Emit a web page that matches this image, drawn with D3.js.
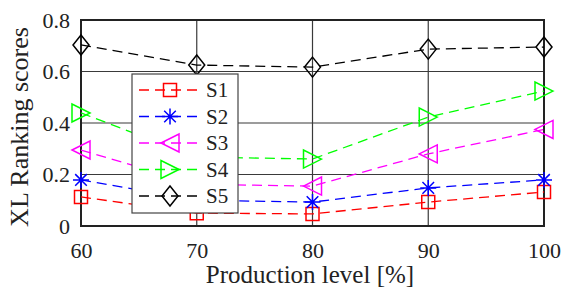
<!DOCTYPE html>
<html>
<head>
<meta charset="utf-8">
<script src="https://cdn.jsdelivr.net/npm/d3@7"></script>
<style>
  body { margin: 0; background: #fff; }
  text { font-family: "Liberation Serif", "Times New Roman", serif; fill: #222; }
</style>
</head>
<body>
<div id="chart"></div>
<script>
const levels = [60, 70, 80, 90, 100];
const s1 = [0.113, 0.050, 0.047, 0.093, 0.132];
const s2 = [0.179, 0.100, 0.093, 0.148, 0.179];
const s3 = [0.295, 0.162, 0.155, 0.280, 0.375];
const s4 = [0.439, 0.268, 0.260, 0.423, 0.524];
const s5 = [0.703, 0.625, 0.617, 0.687, 0.695];
const yTicks = [0, 0.2, 0.4, 0.6, 0.8];
const seriesNames = ["S1", "S2", "S3", "S4", "S5"];

const series = [
  { name: "S1", values: s1, color: "#ff0000", marker: "square" },
  { name: "S2", values: s2, color: "#0000ff", marker: "asterisk" },
  { name: "S3", values: s3, color: "#ff00ff", marker: "left" },
  { name: "S4", values: s4, color: "#00ff00", marker: "right" },
  { name: "S5", values: s5, color: "#000000", marker: "diamond" }
];

const width = 563, height = 293;
const margin = { top: 20, right: 19, bottom: 67, left: 81 };
const bw = width - margin.left - margin.right;
const bh = height - margin.top - margin.bottom;

const svg = d3.select("#chart").append("svg")
  .attr("width", width)
  .attr("height", height);

const bounds = svg.append("g")
  .attr("transform", `translate(${margin.left},${margin.top})`);

const x = d3.scaleLinear().domain([60, 100]).range([0, bw]);
const y = d3.scaleLinear().domain([0, 0.8]).range([bh, 0]);

// grid
bounds.append("g")
  .selectAll("line.vg")
  .data(levels.slice(1, -1))
  .join("line")
  .attr("x1", d => x(d)).attr("x2", d => x(d))
  .attr("y1", 0).attr("y2", bh)
  .attr("stroke", "#3a3a3a").attr("stroke-width", 1.2);
bounds.append("g")
  .selectAll("line.hg")
  .data(yTicks.slice(1, -1))
  .join("line")
  .attr("x1", 0).attr("x2", bw)
  .attr("y1", d => y(d)).attr("y2", d => y(d))
  .attr("stroke", "#3a3a3a").attr("stroke-width", 1.2);

// axes
const xAxis = bounds.append("g")
  .attr("transform", `translate(0,${bh})`)
  .call(d3.axisBottom(x).tickValues(levels).tickSize(0).tickPadding(16).tickFormat(d3.format("d")));
const yAxis = bounds.append("g")
  .call(d3.axisLeft(y).tickValues(yTicks).tickSize(0).tickPadding(11)
    .tickFormat(d => d === 0 ? "0" : d3.format(".1f")(d)));
[xAxis, yAxis].forEach(a => {
  a.select(".domain").remove();
  a.selectAll("text").attr("font-size", 22).attr("font-family", "Liberation Serif").attr("fill", "#222");
});
xAxis.selectAll("text").attr("dy", "0.71em");

// frame
bounds.append("rect")
  .attr("x", 0).attr("y", 0).attr("width", bw).attr("height", bh)
  .attr("fill", "none").attr("stroke", "#222").attr("stroke-width", 2);

// marker shapes, sized to look like the matlab ones
function markerPath(type) {
  switch (type) {
    case "square": return "M-6.5,-6.5H6.5V6.5H-6.5Z";
    case "diamond": return "M0,-10L8,0L0,10L-8,0Z";
    case "left": return "M-9,0L9,-9L9,9Z";
    case "right": return "M9,0L-9,-9L-9,9Z";
    case "asterisk": return "M-8,0H8M0,-8V8M-5.8,-5.8L5.8,5.8M-5.8,5.8L5.8,-5.8";
  }
}

const line = d3.line()
  .x((d, i) => x(levels[i]))
  .y(d => y(d));

series.forEach(s => {
  bounds.append("path")
    .attr("d", line(s.values))
    .attr("fill", "none")
    .attr("stroke", s.color)
    .attr("stroke-width", 1.3)
    .attr("stroke-dasharray", "10,6");
  bounds.append("g").selectAll("path")
    .data(s.values)
    .join("path")
    .attr("transform", (d, i) => `translate(${x(levels[i])},${y(d)})`)
    .attr("d", markerPath(s.marker))
    .attr("fill", "none")
    .attr("stroke", s.color)
    .attr("stroke-width", 1.5);
});

// legend
const legend = svg.append("g").attr("transform", "translate(132,74)");
legend.append("rect")
  .attr("width", 106).attr("height", 139)
  .attr("fill", "#fff").attr("stroke", "#444").attr("stroke-width", 1.2);
const rows = legend.selectAll("g.row")
  .data(series)
  .join("g")
  .attr("transform", (d, i) => `translate(0,${16 + i * 26.5})`);
rows.append("line")
  .attr("x1", 7).attr("x2", 68)
  .attr("stroke", d => d.color).attr("stroke-width", 1.3)
  .attr("stroke-dasharray", "10,6");
rows.append("path")
  .attr("transform", "translate(38,0)")
  .attr("d", d => markerPath(d.marker))
  .attr("fill", "none")
  .attr("stroke", d => d.color)
  .attr("stroke-width", 1.5);
rows.append("text")
  .attr("x", 74).attr("dy", "0.35em")
  .attr("font-size", 21)
  .text((d, i) => seriesNames[i]);

// axis titles
svg.append("text")
  .attr("x", 310).attr("y", 283)
  .attr("text-anchor", "middle").attr("font-size", 25)
  .text("Production level [%]");
svg.append("text")
  .attr("transform", `translate(28,127) rotate(-90)`)
  .attr("text-anchor", "middle").attr("font-size", 26)
  .text("XL Ranking scores");
</script>
</body>
</html>
